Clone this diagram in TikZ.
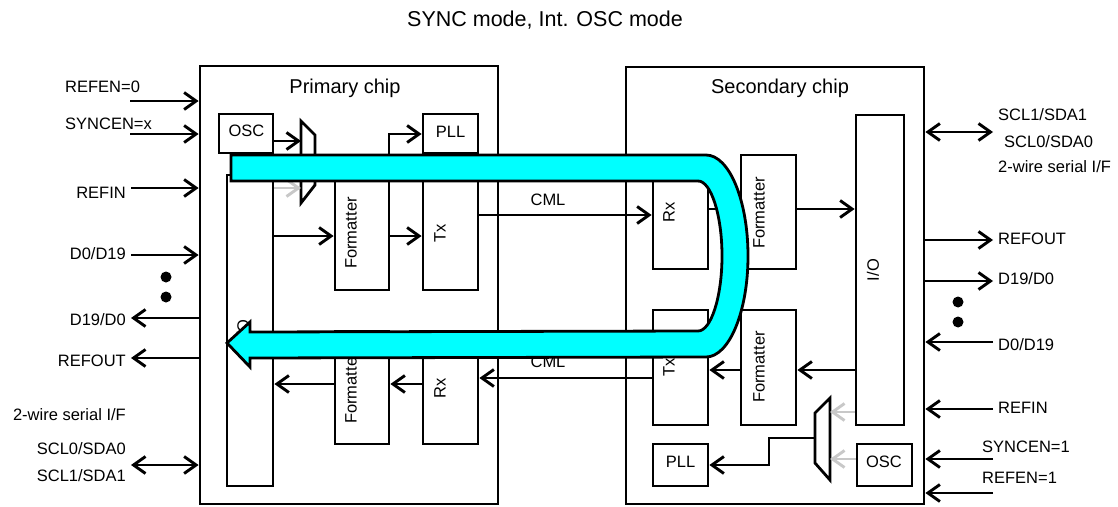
\documentclass[tikz,border=0pt]{standalone}
\usepackage{fontspec}
\setmainfont{Liberation Sans}
\usetikzlibrary{arrows.meta,fit}
\definecolor{aqua}{RGB}{0,255,255}
\definecolor{lgray}{RGB}{200,200,200}
\begin{document}
\begin{tikzpicture}[x=1pt,y=-1pt,
  lw/.style={line width=2.8pt},
  box/.style={draw,line width=2.8pt,fill=white,inner sep=0pt},
  arr/.style={line width=2.9pt,-{Straight Barb[length=12pt,width=17pt]}},
  darr/.style={line width=2.9pt,{Straight Barb[length=12pt,width=17pt]}-{Straight Barb[length=12pt,width=17pt]}},
  garr/.style={line width=2.9pt,draw=lgray,-{Straight Barb[length=12pt,width=17pt]}},
  txt/.style={font=\fontsize{16.5}{19}\selectfont,inner sep=0pt},
  vtxt/.style={txt,rotate=90},
  chiptitle/.style={font=\fontsize{20}{24}\selectfont,inner sep=0pt,anchor=base},
  dot/.style={fill=black,circle,inner sep=0pt,minimum size=11pt},
  band/.style={draw=black,line width=2.8pt,fill=aqua}
]
\useasboundingbox (0,0) rectangle (1118,506);

% title
\node[font=\fontsize{21.5}{26}\selectfont,inner sep=0pt,anchor=base] (title) at (545,27) {SYNC mode, Int. OSC mode};

% chips
\node[box,fit={(200,66) (498,504)}] (chipP) {};
\node[box,fit={(626,67) (924,504)}] (chipS) {};
\node[chiptitle] (tP) at (345,93) {Primary chip};
\node[chiptitle] (tS) at (780,93) {Secondary chip};

% ---------- primary chip blocks
\node[box,fit={(219,114) (273,153)}] (oscP) {};
\node[box,fit={(423,114) (478,153)}] (pllP) {};
\node[box,fit={(227,175) (273,486)}] (ioP) {};
\node[box,fit={(335,176) (389,290)}] (fmtP1) {};
\node[box,fit={(423,176) (478,290)}] (txP) {};
\node[box,fit={(335,331) (389,444)}] (fmtP2) {};
\node[box,fit={(423,331) (478,444)}] (rxP) {};
\draw[lw,fill=white] (301,121) -- (315,135) -- (315,185) -- (301,203) -- cycle;
\coordinate (muxPin1) at (301,141);
\coordinate (muxPin2) at (301,188);
\coordinate (muxPout) at (315,160);

\node[txt] (lOscP) at (246.5,131) {OSC};
\node[txt] (lPllP) at (450.5,132) {PLL};
\node[vtxt] (lIoP) at (243,330.5) {I/O};
\node[vtxt] (lFmtP1) at (351,233) {Formatter};
\node[vtxt] (lTxP) at (440,233) {Tx};
\node[vtxt] (lFmtP2) at (351,388) {Formatter};
\node[vtxt] (lRxP) at (440,388) {Rx};

% ---------- secondary chip blocks
\node[box,fit={(653,158) (708,269)}] (rxS) {};
\node[box,fit={(741,155) (796,269)}] (fmtS1) {};
\node[box,fit={(856,115) (904,425)}] (ioS) {};
\node[box,fit={(741,310) (796,425)}] (fmtS2) {};
\node[box,fit={(653,310) (708,425)}] (txS) {};
\node[box,fit={(653,444) (708,486)}] (pllS) {};
\node[box,fit={(857,444) (912,486)}] (oscS) {};
\draw[lw,fill=white] (830,398) -- (830,480) -- (815,463) -- (815,413) -- cycle;
\coordinate (muxSin1) at (830,412);
\coordinate (muxSin2) at (830,459);
\coordinate (muxSout) at (815,438);

\node[vtxt] (lRxS) at (669,212) {Rx};
\node[vtxt] (lFmtS1) at (759,213) {Formatter};
\node[vtxt] (lIoS) at (873,270) {I/O};
\node[vtxt] (lFmtS2) at (759,367) {Formatter};
\node[vtxt] (lTxS) at (669,367) {Tx};
\node[txt] (lPllS) at (680.5,462) {PLL};
\node[txt] (lOscS) at (884,462) {OSC};

% ---------- internal connectors, primary
\draw[arr] (oscP.east |- muxPin1) -- (muxPin1);
\draw[garr] (ioP.east |- muxPin2) -- (muxPin2);
\draw[arr] (muxPout) -- (389,160) -- (389,134) -- (pllP.west |- 0,134);
\draw[arr] (ioP.east |- 0,236) -- (fmtP1.west |- 0,236);
\draw[arr] (fmtP1.east |- 0,236) -- (txP.west |- 0,236);
\draw[arr] (rxP.west |- 0,384) -- (fmtP2.east |- 0,384);
\draw[arr] (fmtP2.west |- 0,384) -- (ioP.east |- 0,384);

% CML links
\draw[arr] (txP.east |- 0,215) -- (rxS.west |- 0,215);
\node[txt,anchor=base] (cml1) at (548,205) {CML};
\draw[arr] (txS.west |- 0,378) -- (rxP.east |- 0,378);
\node[txt,anchor=base] (cml2) at (548,367) {CML};

% ---------- internal connectors, secondary
\draw[arr] (rxS.east |- 0,209) -- (fmtS1.west |- 0,209);
\draw[arr] (fmtS1.east |- 0,209) -- (ioS.west |- 0,209);
\draw[arr] (ioS.west |- 0,370) -- (fmtS2.east |- 0,370);
\draw[arr] (fmtS2.west |- 0,370) -- (txS.east |- 0,370);
\draw[garr] (ioS.west |- muxSin1) -- (muxSin1);
\draw[garr] (oscS.west |- muxSin2) -- (muxSin2);
\draw[arr] (muxSout) -- (769,438) -- (769,465) -- (pllS.east |- 0,465);

% ---------- external, left
\coordinate (aREFEN) at (130,101);
\coordinate (aSYNCEN) at (130,134);
\coordinate (aREFIN) at (131,188);
\coordinate (aD0) at (131,255);
\coordinate (aD19) at (131,318);
\coordinate (aREFOUT) at (131,358);
\coordinate (aSCL) at (131,465);
\draw[arr] (aREFEN) -- (chipP.west |- aREFEN);
\draw[arr] (aSYNCEN) -- (chipP.west |- aSYNCEN);
\draw[arr] (aREFIN) -- (chipP.west |- aREFIN);
\draw[arr] (aD0) -- (chipP.west |- aD0);
\draw[arr] (chipP.west |- aD19) -- (aD19);
\draw[arr] (chipP.west |- aREFOUT) -- (aREFOUT);
\draw[darr] (aSCL) -- (chipP.west |- aSCL);
\node[txt,anchor=base west] (tREFEN) at (65,92) {REFEN=0};
\node[txt,anchor=base west] (tSYNCEN) at (65,129) {SYNCEN=x};
\node[txt,anchor=base east] (tREFIN) at (126,198) {REFIN};
\node[txt,anchor=base east] (tD0) at (126,259) {D0/D19};
\node[txt,anchor=base east] (tD19) at (126,325) {D19/D0};
\node[txt,anchor=base east] (tREFOUT) at (126,366) {REFOUT};
\node[txt,anchor=base east] (t2w) at (126,420) {2-wire serial I/F};
\node[txt,anchor=base east] (tSCL0) at (126,454) {SCL0/SDA0};
\node[txt,anchor=base east] (tSCL1) at (126,481) {SCL1/SDA1};
\node[dot] (dl1) at (166,277) {};
\node[dot] (dl2) at (166,297) {};

% ---------- external, right
\coordinate (bSCL) at (993,132);
\coordinate (bREFOUT) at (993,240);
\coordinate (bD19) at (993,281);
\coordinate (bD0) at (993,342);
\coordinate (bREFIN) at (993,409);
\coordinate (bSYNCEN) at (993,459);
\coordinate (bREFEN) at (993,493);
\draw[darr] (chipS.east |- bSCL) -- (bSCL);
\draw[arr] (chipS.east |- bREFOUT) -- (bREFOUT);
\draw[arr] (chipS.east |- bD19) -- (bD19);
\draw[arr] (bD0) -- (chipS.east |- bD0);
\draw[arr] (bREFIN) -- (chipS.east |- bREFIN);
\draw[arr] (bSYNCEN) -- (chipS.east |- bSYNCEN);
\draw[arr] (bREFEN) -- (chipS.east |- bREFEN);
\node[txt,anchor=base west] (uSCL1) at (998,120) {SCL1/SDA1};
\node[txt,anchor=base west] (uSCL0) at (1004,147) {SCL0/SDA0};
\node[txt,anchor=base west] (u2w) at (998,172) {2-wire serial I/F};
\node[txt,anchor=base west] (uREFOUT) at (998,244) {REFOUT};
\node[txt,anchor=base west] (uD19) at (998,284) {D19/D0};
\node[txt,anchor=base west] (uD0) at (998,350) {D0/D19};
\node[txt,anchor=base west] (uREFIN) at (998,413) {REFIN};
\node[txt,anchor=base west] (uSYNCEN) at (982,452) {SYNCEN=1};
\node[txt,anchor=base west] (uREFEN) at (982,483) {REFEN=1};
\node[dot] (dr1) at (958,302) {};
\node[dot] (dr2) at (958,322) {};

% ---------- data loop band (cyan U-turn arrow)
\draw[band] (231,155) -- (706,155)
  .. controls (729,155) and (748,200) .. (748,256)
  .. controls (748,312) and (729,357) .. (706,357)
  -- (250,358) -- (250,367) -- (227,343) -- (250,322) -- (250,332)
  -- (698,331)
  .. controls (711,331) and (722,297) .. (722,256)
  .. controls (722,215) and (711,181) .. (698,181)
  -- (231,181) -- cycle;
\end{tikzpicture}
\end{document}
